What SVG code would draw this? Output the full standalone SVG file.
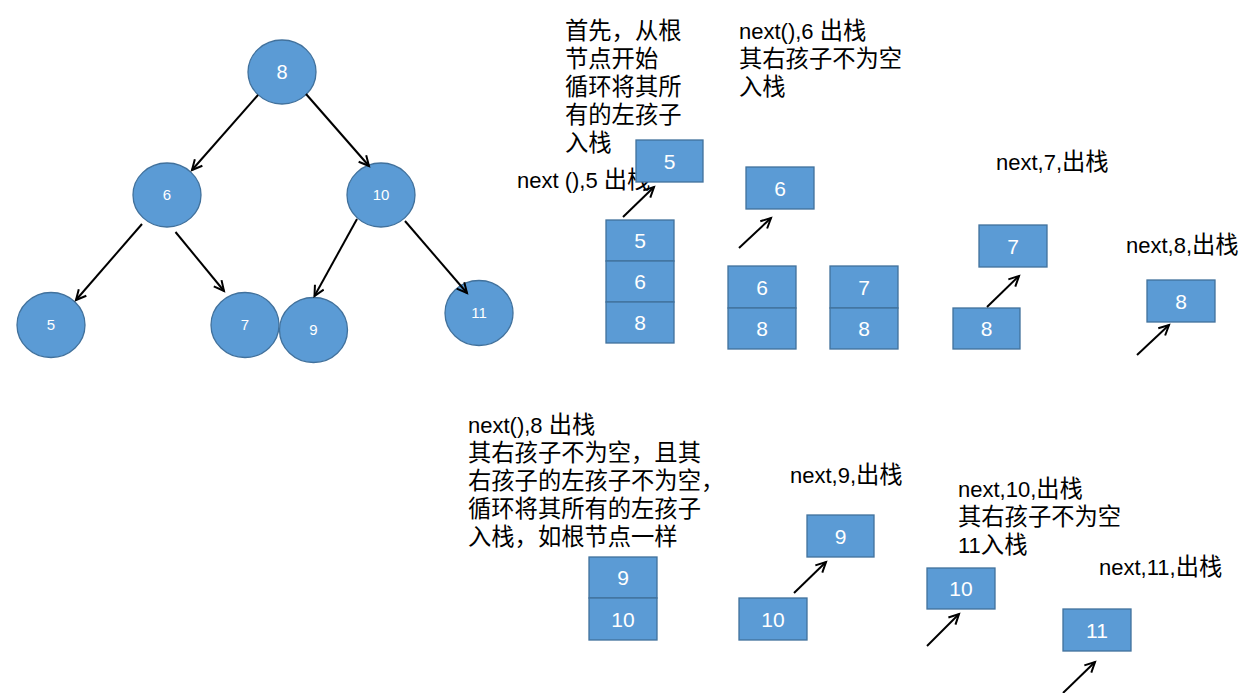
<svg xmlns="http://www.w3.org/2000/svg" width="1240" height="693" viewBox="0 0 1240 693">
<style>
.n{fill:#5B9BD5;stroke:#41719C;stroke-width:1.3}
.b{fill:#5B9BD5;stroke:#41719C;stroke-width:1.3}
.t{font-family:"Liberation Sans","Noto Sans CJK SC",sans-serif;fill:#fff;text-anchor:middle}
.big{font-size:20px}
.sm{font-size:15px}
.bx{font-size:21px}
.lbl{font-family:"Liberation Sans","Noto Sans CJK SC",sans-serif;font-size:22px;fill:#000}
.c{font-size:23.3px}
.e{stroke:#000;stroke-width:2;fill:none}
</style>
<defs>
<marker id="ah" markerWidth="14" markerHeight="14" refX="11" refY="6" orient="auto" markerUnits="userSpaceOnUse">
<path d="M1,1 L11,6 L1,11" fill="none" stroke="#000" stroke-width="2"/>
</marker>
</defs>
<g id="tree8"><ellipse class="n" cx="282" cy="72" rx="34" ry="32"/><text class="t big" x="282" y="79">8</text></g>
<g id="tree6"><ellipse class="n" cx="167" cy="195" rx="34" ry="32"/><text class="t sm" x="167" y="200">6</text></g>
<g id="tree10"><ellipse class="n" cx="381" cy="195" rx="34" ry="32"/><text class="t sm" x="381" y="200">10</text></g>
<g id="tree5"><ellipse class="n" cx="51" cy="325" rx="34" ry="32.5"/><text class="t sm" x="51" y="330">5</text></g>
<g id="tree7"><ellipse class="n" cx="245" cy="325" rx="34" ry="32.5"/><text class="t sm" x="245" y="330">7</text></g>
<g id="tree9"><ellipse class="n" cx="313.5" cy="330" rx="34" ry="32.5"/><text class="t sm" x="313.5" y="335">9</text></g>
<g id="tree11"><ellipse class="n" cx="479" cy="313" rx="34" ry="32.5"/><text class="t sm" x="479" y="318">11</text></g>

<g id="note1"><text class="lbl c"><tspan x="565" y="39">首先，从根</tspan><tspan x="565" y="67">节点开始</tspan><tspan x="565" y="95">循环将其所</tspan><tspan x="565" y="123">有的左孩子</tspan><tspan x="565" y="151">入栈</tspan></text></g>
<g id="note2"><text class="lbl"><tspan x="739" y="39">next(),6 <tspan class="c">出栈</tspan></tspan><tspan class="c" x="739" y="67">其右孩子不为空</tspan><tspan class="c" x="739" y="95">入栈</tspan></text></g>
<g id="note3"><text class="lbl" x="517" y="188">next (),5 <tspan class="c">出栈</tspan></text></g>
<g id="note4"><text class="lbl" x="996" y="170">next,7,<tspan class="c">出栈</tspan></text></g>
<g id="note5"><text class="lbl" x="1126" y="253">next,8,<tspan class="c">出栈</tspan></text></g>
<g id="note6"><text class="lbl"><tspan x="468" y="433">next(),8 <tspan class="c">出栈</tspan></tspan><tspan class="c" x="468" y="461">其右孩子不为空，且其</tspan><tspan class="c" x="468" y="489">右孩子的左孩子不为空，</tspan><tspan class="c" x="468" y="517">循环将其所有的左孩子</tspan><tspan class="c" x="468" y="545">入栈，如根节点一样</tspan></text></g>
<g id="note7"><text class="lbl" x="790" y="483">next,9,<tspan class="c">出栈</tspan></text></g>
<g id="note8"><text class="lbl"><tspan x="958" y="497">next,10,<tspan class="c">出栈</tspan></tspan><tspan class="c" x="958" y="525">其右孩子不为空</tspan><tspan x="958" y="553">11<tspan class="c">入栈</tspan></tspan></text></g>
<g id="note9"><text class="lbl" x="1099" y="575">next,11,<tspan class="c">出栈</tspan></text></g>

<g id="pop5"><rect class="b" x="636" y="140" width="67" height="42"/><text class="t bx" x="669.5" y="169">5</text></g>
<g id="stackA">
<rect class="b" x="606" y="220" width="68" height="41"/><text class="t bx" x="640" y="248">5</text>
<rect class="b" x="606" y="261" width="68" height="41"/><text class="t bx" x="640" y="289">6</text>
<rect class="b" x="606" y="302" width="68" height="41"/><text class="t bx" x="640" y="330">8</text>
</g>
<g id="pop6"><rect class="b" x="746" y="167" width="68" height="42"/><text class="t bx" x="780" y="196">6</text></g>
<g id="stackB">
<rect class="b" x="728" y="266" width="68" height="42"/><text class="t bx" x="762" y="295">6</text>
<rect class="b" x="728" y="308" width="68" height="41"/><text class="t bx" x="762" y="336">8</text>
</g>
<g id="stackC">
<rect class="b" x="830" y="266" width="68" height="42"/><text class="t bx" x="864" y="295">7</text>
<rect class="b" x="830" y="308" width="68" height="41"/><text class="t bx" x="864" y="336">8</text>
</g>
<g id="pop7"><rect class="b" x="979" y="225" width="68" height="42"/><text class="t bx" x="1013" y="254">7</text></g>
<g id="stackD"><rect class="b" x="953" y="308" width="67" height="41"/><text class="t bx" x="986.5" y="336">8</text></g>
<g id="pop8"><rect class="b" x="1147" y="280" width="68" height="42"/><text class="t bx" x="1181" y="309">8</text></g>
<g id="stackE">
<rect class="b" x="589" y="557" width="68" height="41"/><text class="t bx" x="623" y="585">9</text>
<rect class="b" x="589" y="598" width="68" height="42"/><text class="t bx" x="623" y="627">10</text>
</g>
<g id="pop9"><rect class="b" x="807" y="515" width="67" height="42"/><text class="t bx" x="840.5" y="544">9</text></g>
<g id="stackF"><rect class="b" x="739" y="598" width="68" height="42"/><text class="t bx" x="773" y="627">10</text></g>
<g id="pop10"><rect class="b" x="927" y="568" width="68" height="41"/><text class="t bx" x="961" y="596">10</text></g>
<g id="pop11"><rect class="b" x="1063" y="609" width="68" height="42"/><text class="t bx" x="1097" y="638">11</text></g>

<g id="connectors">
<line class="e" x1="258" y1="95" x2="192" y2="170" marker-end="url(#ah)"/>
<line class="e" x1="306" y1="94" x2="369" y2="166" marker-end="url(#ah)"/>
<line class="e" x1="142" y1="224" x2="76" y2="300" marker-end="url(#ah)"/>
<line class="e" x1="175.5" y1="232" x2="224" y2="291" marker-end="url(#ah)"/>
<line class="e" x1="357" y1="219" x2="314.5" y2="296" marker-end="url(#ah)"/>
<line class="e" x1="405" y1="221" x2="467" y2="293" marker-end="url(#ah)"/>
<line class="e" x1="623" y1="217" x2="654" y2="187" marker-end="url(#ah)"/>
<line class="e" x1="739" y1="248" x2="771" y2="218" marker-end="url(#ah)"/>
<line class="e" x1="987" y1="307" x2="1019" y2="276" marker-end="url(#ah)"/>
<line class="e" x1="1137" y1="355" x2="1169" y2="325" marker-end="url(#ah)"/>
<line class="e" x1="794" y1="593" x2="826" y2="562" marker-end="url(#ah)"/>
<line class="e" x1="927" y1="646" x2="959" y2="614" marker-end="url(#ah)"/>
<line class="e" x1="1063" y1="693" x2="1095" y2="662" marker-end="url(#ah)"/>
</g>
</svg>
